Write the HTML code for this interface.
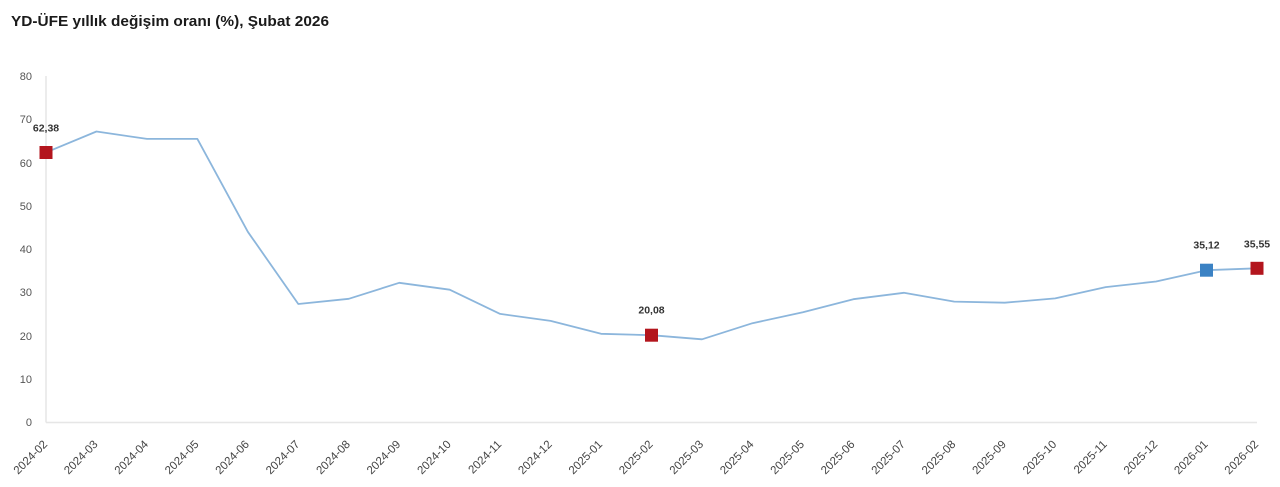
<!DOCTYPE html>
<html><head><meta charset="utf-8"><style>
html,body{margin:0;padding:0;background:#fff;}
svg{display:block;}
</style></head><body>
<svg width="1280" height="487" viewBox="0 0 1280 487" xmlns="http://www.w3.org/2000/svg" font-family="Liberation Sans, Arial, sans-serif">
<rect width="1280" height="487" fill="#fff"/>
<text x="11" y="26" font-size="15" font-weight="bold" fill="#1a1a1a" textLength="318" lengthAdjust="spacingAndGlyphs">YD-ÜFE yıllık değişim oranı (%), Şubat 2026</text>
<!-- axes -->
<line x1="46" y1="76" x2="46" y2="422.5" stroke="#e6e6e6" stroke-width="1.5"/>
<line x1="46" y1="422.5" x2="1257" y2="422.5" stroke="#e6e6e6" stroke-width="1.5"/>
<!-- y labels -->
<g font-size="11" fill="#555" text-anchor="end">
<text x="32" y="80">80</text>
<text x="32" y="123">70</text>
<text x="32" y="167">60</text>
<text x="32" y="210">50</text>
<text x="32" y="253">40</text>
<text x="32" y="296">30</text>
<text x="32" y="340">20</text>
<text x="32" y="383">10</text>
<text x="32" y="426">0</text>
</g>
<!-- x labels -->
<g font-size="11.5" fill="#444" text-anchor="end">
<text transform="translate(48,445) rotate(-45)">2024-02</text>
<text transform="translate(98.46,445) rotate(-45)">2024-03</text>
<text transform="translate(148.92,445) rotate(-45)">2024-04</text>
<text transform="translate(199.38,445) rotate(-45)">2024-05</text>
<text transform="translate(249.84,445) rotate(-45)">2024-06</text>
<text transform="translate(300.3,445) rotate(-45)">2024-07</text>
<text transform="translate(350.76,445) rotate(-45)">2024-08</text>
<text transform="translate(401.22,445) rotate(-45)">2024-09</text>
<text transform="translate(451.68,445) rotate(-45)">2024-10</text>
<text transform="translate(502.14,445) rotate(-45)">2024-11</text>
<text transform="translate(552.6,445) rotate(-45)">2024-12</text>
<text transform="translate(603.06,445) rotate(-45)">2025-01</text>
<text transform="translate(653.52,445) rotate(-45)">2025-02</text>
<text transform="translate(703.98,445) rotate(-45)">2025-03</text>
<text transform="translate(754.44,445) rotate(-45)">2025-04</text>
<text transform="translate(804.9,445) rotate(-45)">2025-05</text>
<text transform="translate(855.36,445) rotate(-45)">2025-06</text>
<text transform="translate(905.82,445) rotate(-45)">2025-07</text>
<text transform="translate(956.28,445) rotate(-45)">2025-08</text>
<text transform="translate(1006.74,445) rotate(-45)">2025-09</text>
<text transform="translate(1057.2,445) rotate(-45)">2025-10</text>
<text transform="translate(1107.66,445) rotate(-45)">2025-11</text>
<text transform="translate(1158.12,445) rotate(-45)">2025-12</text>
<text transform="translate(1208.58,445) rotate(-45)">2026-01</text>
<text transform="translate(1259.04,445) rotate(-45)">2026-02</text>
</g>
<!-- line -->
<polyline fill="none" stroke="#8cb6dc" stroke-width="1.8" stroke-linejoin="round" points="46,152.4 96.46,131.5 146.92,138.9 197.38,138.9 247.84,231.8 298.3,304.0 348.76,298.8 399.22,282.8 449.68,289.7 500.14,313.9 550.6,320.9 601.06,333.8 651.52,335.2 701.98,339.3 752.44,323.2 802.9,312.2 853.36,299.2 903.82,292.8 954.28,301.6 1004.74,302.7 1055.2,298.4 1105.66,287.1 1156.12,281.5 1206.58,270.2 1257.04,268.3"/>
<!-- markers -->
<rect x="39.5" y="146" width="13" height="13" fill="#b3151d"/>
<rect x="645" y="328.7" width="13" height="13" fill="#b3151d"/>
<rect x="1200" y="263.7" width="13" height="13" fill="#3b82c4"/>
<rect x="1250.5" y="261.8" width="13" height="13" fill="#b3151d"/>
<!-- data labels -->
<g font-size="10.5" font-weight="bold" fill="#333" text-anchor="middle">
<text x="46" y="131.5">62,38</text>
<text x="651.5" y="313.5">20,08</text>
<text x="1206.5" y="248.5">35,12</text>
<text x="1257" y="247.5">35,55</text>
</g>
</svg>
</body></html>
